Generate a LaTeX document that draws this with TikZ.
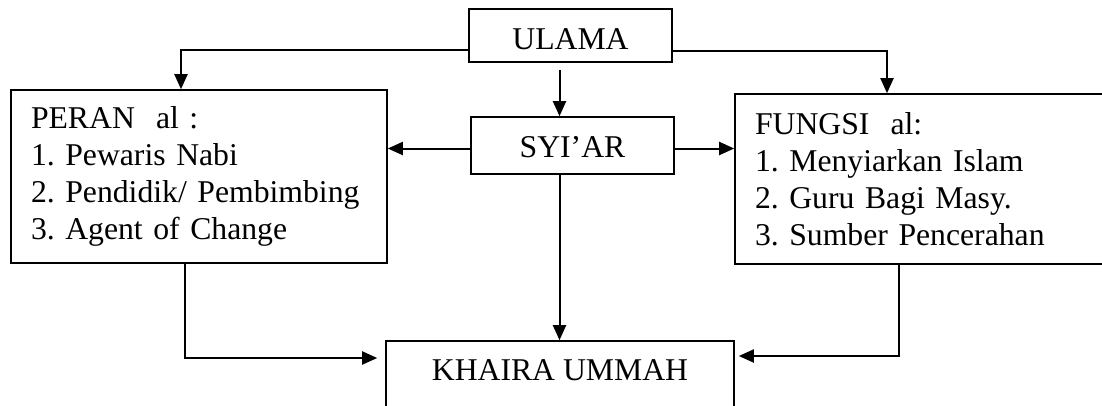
\documentclass[tikz,border=0pt]{standalone}
\usepackage{fontspec}
\setmainfont{Liberation Serif}
\usetikzlibrary{arrows.meta,calc}
\frenchspacing

\begin{document}
\begin{tikzpicture}[x=1pt, y=-1pt,
  block/.style={rectangle, draw, line width=1.6pt, inner sep=0pt,
    font=\fontsize{31.7}{37}\selectfont},
  listbox/.style={block, align=left, inner xsep=20pt},
  arrow/.style={-{Triangle[length=15pt,width=13pt]}, line width=2pt}]
  \useasboundingbox (0,0) rectangle (1102,405);
  \clip (0,0) rectangle (1102,405);
  \node[block, minimum width=203pt, minimum height=53pt,
    text height=27pt, text depth=0pt] (ulama) at (570.5,35.5) {ULAMA};
  \node[block, minimum width=203pt, minimum height=57pt,
    text height=23pt, text depth=0pt] (syiar) at (572.5,145.5) {SYI’AR};
  \node[listbox, text width=336pt, minimum height=173pt] (peran) at (199,176.5)
    {PERAN\ \ al :\\1. Pewaris Nabi\\2. Pendidik/ Pembimbing\\3. Agent of Change};
  \node[listbox, text width=360pt, minimum height=170pt] (fungsi) at (935,179)
    {FUNGSI\ \ al:\\1. Menyiarkan Islam\\2. Guru Bagi Masy.\\3. Sumber Pencerahan};
  \node[block, minimum width=348pt, minimum height=90pt,
    text height=21pt, text depth=32pt] (khaira) at (560,386) {KHAIRA UMMAH};
  % from ULAMA
  \draw[arrow] ([yshift=-14pt]ulama.west) -| ([xshift=-18pt]peran.north);
  \draw[arrow] ([yshift=-15pt]ulama.east) -| ([xshift=-48pt]fungsi.north);
  \draw[arrow] ([xshift=-11pt,yshift=-7pt]ulama.south) -- ([xshift=-11pt]ulama.south |- syiar.north);
  % from SYI'AR
  \draw[arrow] ([yshift=-3pt]syiar.west) -- ([yshift=-3pt]syiar.west -| peran.east);
  \draw[arrow] ([yshift=-3pt]syiar.east) -- ([yshift=-3pt]syiar.east -| fungsi.west);
  \draw[arrow] ([xshift=-13pt]syiar.south) -- ([xshift=-13pt]syiar.south |- khaira.north);
  % to KHAIRA UMMAH
  \draw[arrow] ([xshift=-14pt]peran.south) |- ([xshift=-8pt,yshift=28pt]khaira.west);
  \draw[arrow] ([xshift=-36pt]fungsi.south) |- ([xshift=4pt,yshift=30pt]khaira.east);
\end{tikzpicture}
\end{document}
